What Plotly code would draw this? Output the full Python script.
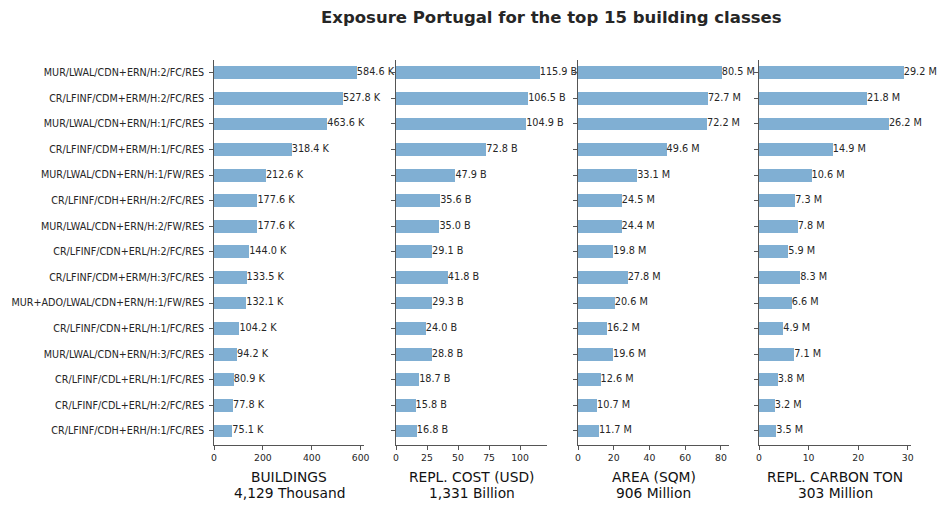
import plotly.graph_objects as go

classes = [
    "MUR/LWAL/CDN+ERN/H:2/FC/RES",
    "CR/LFINF/CDM+ERM/H:2/FC/RES",
    "MUR/LWAL/CDN+ERN/H:1/FC/RES",
    "CR/LFINF/CDM+ERM/H:1/FC/RES",
    "MUR/LWAL/CDN+ERN/H:1/FW/RES",
    "CR/LFINF/CDH+ERH/H:2/FC/RES",
    "MUR/LWAL/CDN+ERN/H:2/FW/RES",
    "CR/LFINF/CDN+ERL/H:2/FC/RES",
    "CR/LFINF/CDM+ERM/H:3/FC/RES",
    "MUR+ADO/LWAL/CDN+ERN/H:1/FW/RES",
    "CR/LFINF/CDN+ERL/H:1/FC/RES",
    "MUR/LWAL/CDN+ERN/H:3/FC/RES",
    "CR/LFINF/CDL+ERL/H:1/FC/RES",
    "CR/LFINF/CDL+ERL/H:2/FC/RES",
    "CR/LFINF/CDH+ERH/H:1/FC/RES",
]
buildings_k = [584.6, 527.8, 463.6, 318.4, 212.6, 177.6, 177.6, 144.0, 133.5, 132.1, 104.2, 94.2, 80.9, 77.8, 75.1]
cost_b = [115.9, 106.5, 104.9, 72.8, 47.9, 35.6, 35.0, 29.1, 41.8, 29.3, 24.0, 28.8, 18.7, 15.8, 16.8]
area_m = [80.5, 72.7, 72.2, 49.6, 33.1, 24.5, 24.4, 19.8, 27.8, 20.6, 16.2, 19.6, 12.6, 10.7, 11.7]
carbon_m = [29.2, 21.8, 26.2, 14.9, 10.6, 7.3, 7.8, 5.9, 8.3, 6.6, 4.9, 7.1, 3.8, 3.2, 3.5]

panel_titles = ["BUILDINGS", "REPL. COST (USD)", "AREA (SQM)", "REPL. CARBON TON"]
panel_totals = ["4,129 Thousand", "1,331 Billion", "906 Million", "303 Million"]
units = ["K", "B", "M", "M"]
tick_steps = [200, 25, 20, 10]
series = [buildings_k, cost_b, area_m, carbon_m]

W, H = 948, 510
panel_px = [(214, 364), (396, 547), (578, 729), (759, 911)]
ytop, ybot = 60, 445

BAR = "#80AFD3"
AXC = "#555555"
TXT = "#262626"
FONT = "DejaVu Sans"

positions = list(range(len(classes)))

fig = go.Figure()
for i, vals in enumerate(series):
    xa = "x" if i == 0 else f"x{i+1}"
    ya = "y" if i == 0 else f"y{i+1}"
    fig.add_trace(go.Bar(
        x=vals, y=positions, orientation="h", width=0.5,
        marker=dict(color=BAR, line=dict(width=0)),
        xaxis=xa, yaxis=ya, showlegend=False, hoverinfo="skip",
    ))
    fig.add_trace(go.Scatter(
        x=vals, y=positions, mode="text",
        text=[f"{v:.1f} {units[i]}" for v in vals],
        textposition="middle right",
        textfont=dict(family=FONT, size=9.7, color=TXT),
        xaxis=xa, yaxis=ya, showlegend=False, hoverinfo="skip", cliponaxis=False,
    ))

layout = dict(
    width=W, height=H,
    margin=dict(l=0, r=0, t=0, b=0),
    paper_bgcolor="white", plot_bgcolor="white",
    font=dict(family=FONT, color=TXT),
    bargap=0,
)
annotations = [dict(
    text="<b>Exposure Portugal for the top 15 building classes</b>",
    x=551 / W, y=1 - 18 / H, xref="paper", yref="paper",
    xanchor="center", yanchor="middle", showarrow=False,
    font=dict(family=FONT, size=16.5, color=TXT),
)]
for i, vals in enumerate(series):
    x0, x1 = panel_px[i]
    key_x = "xaxis" if i == 0 else f"xaxis{i+1}"
    key_y = "yaxis" if i == 0 else f"yaxis{i+1}"
    ya_name = "y" if i == 0 else f"y{i+1}"
    xa_name = "x" if i == 0 else f"x{i+1}"
    layout[key_x] = dict(
        domain=[x0 / W, x1 / W], anchor=ya_name,
        range=[0, max(vals) * 1.05], dtick=tick_steps[i], tick0=0,
        showgrid=False, zeroline=False,
        showline=True, linecolor=AXC, linewidth=1,
        ticks="outside", ticklen=4, tickcolor=AXC, tickwidth=1,
        tickfont=dict(family=FONT, size=9.3, color=TXT),
        automargin=False,
    )
    layout[key_y] = dict(
        domain=[1 - ybot / H, 1 - ytop / H], anchor=xa_name,
        range=[14.55, -0.5],
        tickvals=positions,
        ticktext=classes if i == 0 else [""] * len(classes),
        showticklabels=(i == 0),
        showgrid=False, zeroline=False,
        showline=True, linecolor=AXC, linewidth=1,
        ticks="outside", ticklen=4, tickcolor=AXC, tickwidth=1,
        tickfont=dict(family=FONT, size=9.6, color=TXT),
        ticklabelstandoff=3,
        automargin=False,
    )
    cx = (x0 + x1) / 2 / W
    annotations.append(dict(
        text=panel_titles[i],
        x=cx, y=1 - 477 / H, xref="paper", yref="paper",
        xanchor="center", yanchor="middle", showarrow=False,
        font=dict(family=FONT, size=13.8, color="#111111"),
    ))
    annotations.append(dict(
        text=panel_totals[i],
        x=cx, y=1 - 493 / H, xref="paper", yref="paper",
        xanchor="center", yanchor="middle", showarrow=False,
        font=dict(family=FONT, size=13.8, color="#111111"),
    ))
layout["annotations"] = annotations
fig.update_layout(**layout)

fig.write_html("out.html")
